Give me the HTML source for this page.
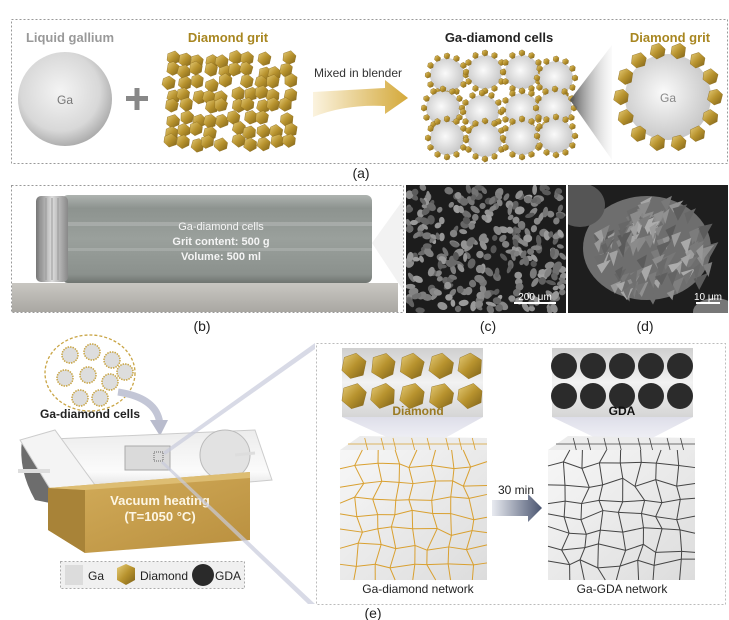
<!DOCTYPE html>
<html><head><meta charset="utf-8"><style>
html,body{margin:0;padding:0;background:#fff;}
svg{display:block;font-family:"Liberation Sans",sans-serif;}
</style></head><body>
<svg id="s" width="729" height="620" viewBox="0 0 729 620" xmlns="http://www.w3.org/2000/svg">
<defs>
<clipPath id="cd"><rect x="568" y="185" width="160" height="128"/></clipPath>
<clipPath id="cc"><rect x="406" y="185" width="160" height="128"/></clipPath>
<radialGradient id="ga" cx="0.45" cy="0.42" r="0.6"><stop offset="0" stop-color="#f4f4f4"/><stop offset="0.7" stop-color="#d8d8d8"/><stop offset="1" stop-color="#a9a9a9"/></radialGradient>
<radialGradient id="gc" cx="0.45" cy="0.45" r="0.6"><stop offset="0" stop-color="#fafafa"/><stop offset="1" stop-color="#c4c4c4"/></radialGradient>
<linearGradient id="gold" x1="0" y1="0" x2="1" y2="1"><stop offset="0" stop-color="#e6cd7a"/><stop offset="0.5" stop-color="#b8932e"/><stop offset="1" stop-color="#7d6118"/></linearGradient>
<linearGradient id="arr" x1="0" x2="1"><stop offset="0" stop-color="#fbf3df"/><stop offset="1" stop-color="#d4a93a"/></linearGradient>
<linearGradient id="tri" x1="0" x2="1"><stop offset="0" stop-color="#555"/><stop offset="1" stop-color="#f0f0f0" stop-opacity="0.3"/></linearGradient>
<linearGradient id="jar" x1="0" y1="0" x2="0" y2="1"><stop offset="0" stop-color="#aeb3b0"/><stop offset="0.15" stop-color="#8d938f"/><stop offset="0.5" stop-color="#9aa09c"/><stop offset="0.9" stop-color="#8b918d"/><stop offset="1" stop-color="#6f7470"/></linearGradient>
<linearGradient id="lid" x1="0" y1="0" x2="1" y2="0"><stop offset="0" stop-color="#777"/><stop offset="0.5" stop-color="#ddd"/><stop offset="1" stop-color="#888"/></linearGradient>
<linearGradient id="ruler" x1="0" y1="0" x2="0" y2="1"><stop offset="0" stop-color="#c9c7c2"/><stop offset="1" stop-color="#a9a7a2"/></linearGradient>
<linearGradient id="cyl" x1="0" y1="0" x2="0" y2="1"><stop offset="0" stop-color="#ececec"/><stop offset="0.6" stop-color="#fbfbfb"/><stop offset="1" stop-color="#cfcfcf"/></linearGradient>
<linearGradient id="box" x1="0" y1="0" x2="1" y2="1"><stop offset="0" stop-color="#d4ae5c"/><stop offset="1" stop-color="#b98f3e"/></linearGradient>
<linearGradient id="cone" x1="0" y1="0" x2="0" y2="1"><stop offset="0" stop-color="#c7c8da" stop-opacity="0.6"/><stop offset="1" stop-color="#dcdcea" stop-opacity="0.25"/></linearGradient>
<linearGradient id="arr2" x1="0" x2="1"><stop offset="0" stop-color="#e8eaf0"/><stop offset="1" stop-color="#4a5570"/></linearGradient>
<linearGradient id="cube" x1="0" y1="0" x2="1" y2="1"><stop offset="0" stop-color="#f7f7f7"/><stop offset="1" stop-color="#dcdcdc"/></linearGradient>
<linearGradient id="strip" x1="0" y1="0" x2="0" y2="1"><stop offset="0" stop-color="#cfcfcf"/><stop offset="0.5" stop-color="#f2f2f2"/><stop offset="1" stop-color="#d5d5d5"/></linearGradient>
</defs>

<rect x="11.5" y="19.5" width="716" height="144" fill="none" stroke="#999" stroke-dasharray="2,2"/>
<text x="70" y="42" font-size="13" font-weight="bold" fill="#999" text-anchor="middle">Liquid gallium</text>
<text x="228" y="42" font-size="13" font-weight="bold" fill="#a88620" text-anchor="middle">Diamond grit</text>
<text x="499" y="42" font-size="13" font-weight="bold" fill="#222" text-anchor="middle">Ga-diamond cells</text>
<text x="670" y="42" font-size="13" font-weight="bold" fill="#a88620" text-anchor="middle">Diamond grit</text>
<circle cx="65" cy="99" r="47" fill="url(#ga)"/>
<text x="65" y="104" font-size="12" fill="#777" text-anchor="middle">Ga</text>
<rect x="126" y="96" width="22" height="5" fill="#888"/><rect x="134.5" y="88" width="5" height="22" fill="#888"/>
<g id="grit"></g>
<text x="358" y="77" font-size="12" fill="#333" text-anchor="middle">Mixed in blender</text>
<path d="M313 92 L385 88 L385 80 L408 98 L385 114 L385 106 Q345 104 313 117 Z" fill="url(#arr)"/>
<g id="cells"></g>
<path d="M570 100 L612 45 L612 160 Z" fill="url(#tri)"/>
<circle cx="668" cy="97" r="43" fill="url(#gc)"/>
<text x="668" y="102" font-size="12" fill="#888" text-anchor="middle">Ga</text>
<g id="ring"></g>
<text x="361" y="178" font-size="14" fill="#222" text-anchor="middle">(a)</text>

<rect x="11.5" y="185.5" width="392" height="127" fill="none" stroke="#999" stroke-dasharray="2,2"/>
<rect x="62" y="195" width="310" height="88" rx="6" fill="url(#jar)"/>
<rect x="62" y="222" width="310" height="4" fill="#b4b8b5" opacity="0.6"/>
<rect x="62" y="248" width="310" height="3" fill="#b4b8b5" opacity="0.5"/>
<rect x="36" y="196" width="32" height="86" rx="5" fill="url(#lid)"/>
<g stroke="#999" stroke-width="1"><line x1="40" y1="200" x2="40" y2="278"/><line x1="46" y1="198" x2="46" y2="280"/><line x1="52" y1="198" x2="52" y2="280"/><line x1="58" y1="198" x2="58" y2="280"/></g>
<path d="M372 243 L403 200 L403 290 Z" fill="#f2f2f2"/>
<text x="221" y="230" font-size="11" fill="#f4f4f4" text-anchor="middle">Ga-diamond cells</text>
<text x="221" y="245" font-size="11" font-weight="bold" fill="#f4f4f4" text-anchor="middle">Grit content: 500 g</text>
<text x="221" y="260" font-size="11" font-weight="bold" fill="#f4f4f4" text-anchor="middle">Volume: 500 ml</text>
<rect x="12" y="283" width="386" height="29" fill="url(#ruler)"/>
<g id="ruler"></g>
<text x="202" y="331" font-size="14" fill="#222" text-anchor="middle">(b)</text>
<rect x="406" y="185" width="160" height="128" fill="#1c1c1c"/>
<g id="semc" clip-path="url(#cc)"></g>
<rect x="568" y="185" width="160" height="128" fill="#1e1e1e"/>
<g id="semd" clip-path="url(#cd)"></g>
<rect x="514" y="302" width="42" height="2" fill="#fff"/>
<text x="535" y="300" font-size="10" fill="#fff" text-anchor="middle">200 μm</text>
<rect x="696" y="302" width="24" height="2" fill="#fff"/>
<text x="708" y="300" font-size="10" fill="#fff" text-anchor="middle">10 μm</text>
<text x="488" y="331" font-size="14" fill="#222" text-anchor="middle">(c)</text>
<text x="645" y="331" font-size="14" fill="#222" text-anchor="middle">(d)</text>

<ellipse cx="90" cy="373" rx="45" ry="38" fill="#fff" stroke="#c9a545" stroke-dasharray="3,2" stroke-width="1.3"/>
<g id="smallcells"></g>
<text x="90" y="418" font-size="12" font-weight="bold" fill="#222" text-anchor="middle">Ga-diamond cells</text>
<path d="M118 392 Q158 398 160 425" fill="none" stroke="#c3c6d6" stroke-width="7"/>
<path d="M150 420 L168 420 L160 436 Z" fill="#b9bccd"/>
<polygon points="30,440 255,430 272,480 45,500" fill="url(#cyl)" stroke="#ccc"/>
<ellipse cx="225" cy="455" rx="25" ry="25" fill="#e2e2e2" stroke="#bbb"/>
<path d="M22 440 Q55 470 60 505 L35 500 Q18 470 22 440Z" fill="#6d6d6d"/>
<path d="M20 440 L60 505 L95 485 L55 430Z" fill="#f4f4f4" stroke="#ccc"/>
<line x1="18" y1="471" x2="50" y2="471" stroke="#ddd" stroke-width="4"/>
<line x1="235" y1="455" x2="255" y2="453" stroke="#ddd" stroke-width="3"/>
<rect x="125" y="446" width="45" height="24" fill="#dadada" stroke="#aaa"/>
<rect x="154" y="452" width="9" height="9" fill="none" stroke="#666" stroke-dasharray="1,1"/>
<polygon points="48,488 250,472 250,540 85,553 48,530" fill="url(#box)"/>
<polygon points="48,488 85,490 85,553 48,530" fill="#a88338"/>
<polygon points="48,488 250,472 250,478 85,490" fill="#ddbd72"/>
<text x="160" y="505" font-size="13" font-weight="bold" fill="#fdf6e4" text-anchor="middle">Vacuum heating</text>
<text x="160" y="521" font-size="13" font-weight="bold" fill="#fdf6e4" text-anchor="middle">(T=1050 °C)</text>
<polygon points="163,452 315,343 315,349 165,455" fill="#c8cadc" opacity="0.7"/>
<polygon points="163,461 315,604 308,604 161,463" fill="#c8cadc" opacity="0.7"/>
<rect x="60.5" y="561.5" width="184" height="27" fill="#f0f0f0" stroke="#aaa" stroke-dasharray="2,2"/>
<rect x="65" y="565" width="18" height="20" fill="#dcdcdc"/>
<text x="88" y="580" font-size="12" fill="#222">Ga</text>
<polygon points="126,564 135,568 135,580 126,585 117,580 117,568" fill="url(#gold)"/>
<text x="140" y="580" font-size="12" fill="#222">Diamond</text>
<circle cx="203" cy="575" r="11" fill="#2a2a2a"/>
<text x="215" y="580" font-size="12" fill="#222">GDA</text>

<rect x="316.5" y="343.5" width="409" height="261" fill="none" stroke="#bbb" stroke-dasharray="2,2"/>
<polygon points="342,417 483,417 420,452" fill="url(#cone)"/>
<polygon points="552,417 693,417 625,452" fill="url(#cone)"/>
<rect x="342" y="348" width="141" height="69" fill="url(#strip)"/>
<rect x="552" y="348" width="141" height="69" fill="url(#strip)"/>
<g id="strips"></g>
<text x="418" y="415" font-size="12" font-weight="bold" fill="#9a7a22" text-anchor="middle">Diamond</text>
<text x="622" y="415" font-size="12" font-weight="bold" fill="#111" text-anchor="middle">GDA</text>
<polygon points="340,450 360,436 487,438 487,450" fill="#ececec"/>
<rect x="340" y="450" width="147" height="130" fill="url(#cube)"/>
<polygon points="548,450 568,436 695,438 695,450" fill="#ececec"/>
<rect x="548" y="450" width="147" height="130" fill="url(#cube)"/>
<g id="net"></g>
<path d="M492 500 L528 500 L528 494 L542 508 L528 522 L528 516 L492 516 Z" fill="url(#arr2)"/>
<text x="516" y="494" font-size="12" fill="#222" text-anchor="middle">30 min</text>
<text x="418" y="593" font-size="12" fill="#222" text-anchor="middle">Ga-diamond network</text>
<text x="622" y="593" font-size="12" fill="#222" text-anchor="middle">Ga-GDA network</text>
<text x="373" y="618" font-size="14" fill="#222" text-anchor="middle">(e)</text>
</svg>
<script>
var NS="http://www.w3.org/2000/svg";var seed=7;function r(){seed=(seed*16807)%2147483647;return seed/2147483647;}
function el(g,t,a){var e=document.createElementNS(NS,t);for(var k in a)e.setAttribute(k,a[k]);document.getElementById(g).appendChild(e);return e;}
function gray(lo,hi){var v=(lo+r()*(hi-lo))|0;return "rgb("+v+","+v+","+v+")";}
function hex(g,cx,cy,s){var p=[];for(var i=0;i<6;i++){var a=Math.PI/3*i+Math.PI/6+r()*0.3;p.push((cx+s*Math.cos(a)).toFixed(1)+","+(cy+s*Math.sin(a)).toFixed(1));}el(g,"polygon",{points:p.join(" "),fill:"url(#gold)",stroke:"#8a6a1c","stroke-width":"0.4"});}
for(var y=56;y<150;y+=12)for(var x=168;x<290;x+=13){if(r()<0.9)hex("grit",x+r()*6,y+r()*6,7);}
var cc=[[447,75],[485,72],[522,72],[556,78],[443,108],[482,112],[522,110],[555,108],[447,138],[485,140],[522,138],[556,136]];
cc.forEach(function(c){el("cells","circle",{cx:c[0],cy:c[1],r:17,fill:"url(#gc)"});for(var i=0;i<12;i++){var a=i*Math.PI/6;hex("cells",c[0]+19*Math.cos(a),c[1]+19*Math.sin(a),3.2);}});
for(var i=0;i<14;i++){var a=i*Math.PI*2/14;hex("ring",668+47*Math.cos(a),97+47*Math.sin(a),8);}
var sc=[[70,355],[92,352],[112,360],[65,378],[88,375],[110,382],[80,398],[100,398],[125,372]];
sc.forEach(function(c){el("smallcells","circle",{cx:c[0],cy:c[1],r:8,fill:"#ddd",stroke:"#c9a545","stroke-width":"1.5","stroke-dasharray":"1.5,1"});});
for(var i=0;i<=190;i++){var x=14+i*2;el("ruler","line",{x1:x,y1:283,x2:x,y2:(i%5==0?290:287),stroke:"#777","stroke-width":"0.5"});el("ruler","line",{x1:x,y1:312,x2:x,y2:(i%5==0?305:308),stroke:"#777","stroke-width":"0.5"});}
var nums=["1","2","3","4","5","6","7","8","9","10","1","2","3","4","5","6","7","8","9","20"];
nums.forEach(function(n,i){var t=el("ruler","text",{x:16+i*19.5,y:302,"font-size":"9","fill":(i==4||i==9||i==14||i==19)?"#a55":"#444"});t.textContent=n;});
for(var i=0;i<300;i++){var x=408+r()*156,y=187+r()*124;el("semc","ellipse",{cx:x,cy:y,rx:3+r()*2.5,ry:2+r()*2,fill:gray(85,160),transform:"rotate("+(r()*180|0)+" "+x+" "+y+")"});}
el("semd","ellipse",{cx:647,cy:248,rx:64,ry:52,fill:"#6e6e6e"});
el("semd","ellipse",{cx:580,cy:205,rx:25,ry:22,fill:"#555"});
el("semd","ellipse",{cx:715,cy:312,rx:22,ry:14,fill:"#777"});
for(var i=0;i<110;i++){var a=r()*6.28,d=Math.sqrt(r())*52;var x=647+d*1.15*Math.cos(a),y=248+d*0.95*Math.sin(a);el("semd","polygon",{points:x.toFixed(1)+","+y.toFixed(1)+" "+(x+7+r()*8).toFixed(1)+","+(y-3-r()*4).toFixed(1)+" "+(x+3+r()*4).toFixed(1)+","+(y+7+r()*6).toFixed(1),fill:gray(90,175)});}
for(var k=0;k<2;k++){var x0=k?552:342;for(var j=0;j<5;j++){var cx=x0+12+j*29;if(k==0){hex("strips",cx,366,13);hex("strips",cx,396,13);}else{el("strips","circle",{cx:cx,cy:366,r:13,fill:"#2b2b2b"});el("strips","circle",{cx:cx,cy:396,r:13,fill:"#2b2b2b"});}}}
function net(x0,col){var nx=9,ny=9,w=147/(nx-1),h=130/(ny-1),P=[];for(var j=0;j<ny;j++){P[j]=[];for(var i=0;i<nx;i++){var jx=(i==0||i==nx-1)?0:(r()-0.5)*w*0.6,jy=(j==0||j==ny-1)?0:(r()-0.5)*h*0.6;P[j][i]=[x0+i*w+jx,450+j*h+jy];}}
for(var j=0;j<ny;j++)for(var i=0;i<nx;i++){var p=P[j][i];if(i<nx-1&&j>0&&j<ny-1){var q=P[j][i+1];el("net","line",{x1:p[0],y1:p[1],x2:q[0],y2:q[1],stroke:col,"stroke-width":"1"});}if(j<ny-1&&i>0&&i<nx-1){var q=P[j+1][i];el("net","line",{x1:p[0],y1:p[1],x2:q[0],y2:q[1],stroke:col,"stroke-width":"1"});}}
for(var i=0;i<8;i++){var xa=x0+20+i*16+r()*6;el("net","line",{x1:xa,y1:438,x2:xa+3,y2:450,stroke:col,"stroke-width":"0.8"});}
el("net","line",{x1:x0+8,y1:444,x2:x0+147,y2:444,stroke:col,"stroke-width":"0.8"});}
net(340,"#d9a030");net(548,"#444");
</script>
</body></html>
